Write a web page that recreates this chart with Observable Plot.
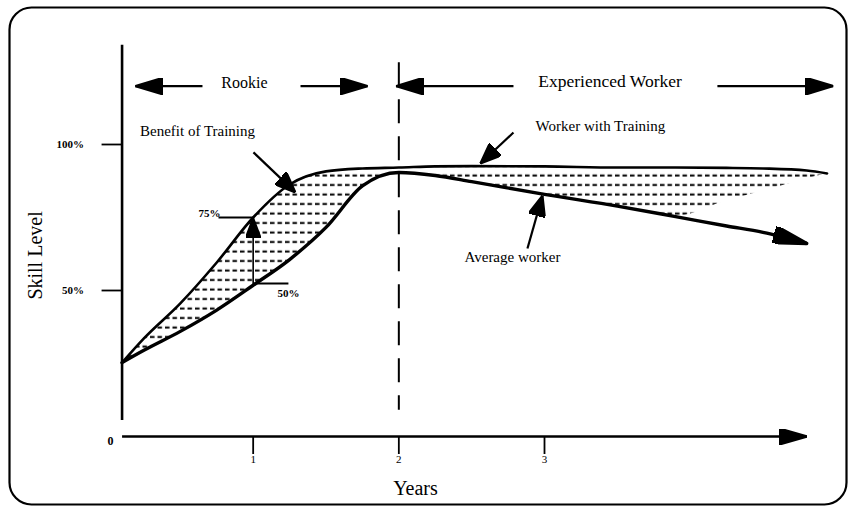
<!DOCTYPE html>
<html>
<head>
<meta charset="utf-8">
<script src="https://cdn.jsdelivr.net/npm/d3@7"></script>
<script src="https://cdn.jsdelivr.net/npm/@observablehq/plot@0.6"></script>
<style>
  html, body { margin: 0; padding: 0; background: #fff; }
</style>
</head>
<body>
<svg width="0" height="0" style="position:absolute">
  <defs>
    <pattern id="dashes" patternUnits="userSpaceOnUse" width="7.5" height="9.5">
      <rect x="0" y="3.5" width="4.5" height="2" fill="#000"></rect>
    </pattern>
  </defs>
</svg>
<script>
// ---- values (x in years, y in % skill level) ----
const years         = [0.1, 0.25, 0.5, 0.75, 1.0, 1.25, 1.5, 1.75, 2.0, 2.25, 2.5, 3.0, 3.5, 3.9, 4.25, 4.5, 4.8, 4.94];
const averageWorker = [25.3, 29.5, 36.0, 43.3, 51.8, 60.6, 71.6, 85.8, 90.4, 89.4, 87.3, 82.9, 78.9, 75.3, 72.1, 69.9, 66.1, null];
const withTraining  = [25.3, 33.6, 45.6, 59.6, 75.0, 86.3, 90.8, 91.8, 92.1, 92.5, 92.6, 92.5, 92.1, 92.1, 92.0, 91.8, 91.1, 90.1];
const shadingFloor  = [25.3, 29.5, 36.0, 43.3, 51.8, 60.6, 71.6, 85.8, 90.4, 89.4, 87.3, 82.9, 78.9, 75.3, 80.7, 84.1, 88.2, 90.1];

const xTicks = [1, 2, 3];
const yTicks = [50, 100];
const yAxisStart = 0.1;          // the skill axis stands where the curves begin
const yAxisExtent = [5.5, 134];
const xAxisEnd = 4.8;
const phaseDivider = 2;          // Rookie | Experienced boundary (years)
const dividerExtent = [128, 9];

const phaseLabels = [
  {x: 0.94, y: 121.2, text: "Rookie", size: 16},
  {x: 3.45, y: 121.6, text: "Experienced Worker", size: 17.5}
];
const phaseArrows = [
  {x1: 0.652, x2: 0.192, y: 120},
  {x1: 1.325, x2: 1.785, y: 120},
  {x1: 2.787, x2: 1.98, y: 120},
  {x1: 4.187, x2: 4.983, y: 120}
];
const curveLabels = [
  {x: 0.618, y: 104.5, text: "Benefit of Training"},
  {x: 3.384, y: 106.2, text: "Worker with Training"},
  {x: 2.78, y: 61.3, text: "Average worker"}
];
const pointerArrows = [
  {x1: 1.002, y1: 97.3, x2: 1.29, y2: 83.6},
  {x1: 2.787, y1: 104.1, x2: 2.56, y2: 93.5},
  {x1: 2.883, y1: 64.4, x2: 2.986, y2: 82.5}
];
const gain = {year: 1.0, from: 52.0, to: 75.0};
const gainLabels = [
  {x: 0.70, y: 76.4, text: "75%", anchor: "end"},
  {x: 1.242, y: 49.0, text: "50%", anchor: "start"}
];
const gainLeaders = [
  {x1: 0.762, x2: 1.0, y: 75.0},
  {x1: 1.0, x2: 1.242, y: 52.4}
];

const table = years.map((t, i) => ({
  year: t, avg: averageWorker[i], trained: withTraining[i], floor: shadingFloor[i]
}));

// filled triangular arrowhead marker
const NS = "http://www.w3.org/2000/svg";
function head(len, half) {
  return (color) => {
    const m = document.createElementNS(NS, "marker");
    m.setAttribute("viewBox", `${-len} ${-half} ${len} ${2 * half}`);
    m.setAttribute("markerWidth", len);
    m.setAttribute("markerHeight", 2 * half);
    m.setAttribute("markerUnits", "userSpaceOnUse");
    m.setAttribute("orient", "auto");
    m.setAttribute("refX", 0);
    m.setAttribute("refY", 0);
    const p = document.createElementNS(NS, "path");
    p.setAttribute("d", `M${-len},${-half}L0,0L${-len},${half}Z`);
    p.setAttribute("fill", color || "black");
    m.appendChild(p);
    return m;
  };
}

const W = 848, H = 509;
const mL = 9, mT = 7, mR = 2, mB = 5;
const xPix = d3.scaleLinear([0, 3], [107, 544]);
const yPix = d3.scaleLinear([0, 100], [436, 144]);

const chart = Plot.plot({
  width: W, height: H,
  marginLeft: mL, marginTop: mT, marginRight: mR, marginBottom: mB,
  x: {domain: xPix.domain(), range: xPix.range()},
  y: {domain: yPix.domain(), range: yPix.range()},
  style: {fontFamily: "'Liberation Serif', 'Times New Roman', serif", background: "#fff", color: "#000"},
  marks: [
    Plot.frame({rx: 22, stroke: "#000", strokeWidth: 2.2}),
    // shaded benefit
    Plot.areaY(table, {x: "year", y1: "floor", y2: "trained", curve: "monotone-x", fill: "url(#dashes)"}),
    // axes
    Plot.ruleX([yAxisStart], {y1: yAxisExtent[0], y2: yAxisExtent[1], stroke: "#000", strokeWidth: 2.6}),
    Plot.link([{x1: yAxisStart, x2: xAxisEnd}], {x1: "x1", x2: "x2", y1: 0, y2: 0, stroke: "#000", strokeWidth: 2.6, markerEnd: head(28, 8)}),
    Plot.axisX({ticks: xTicks, tickSize: 18, tickPadding: 1, dy: -(H - mB - yPix(0)), fontSize: 11, strokeWidth: 1.8, tickFormat: d => String(d), label: null}),
    Plot.axisY({ticks: yTicks, tickSize: 20, tickPadding: 18, dx: xPix(yAxisStart) - mL, fontSize: 11, fontWeight: "bold", strokeWidth: 1.8, tickFormat: d => d + "%", label: null}),
    Plot.text(["0"], {x: 0.02, y: -1.7, text: d => d, fontSize: 12, fontWeight: "bold"}),
    Plot.text(["Years"], {x: 2.114, y: -17.8, text: d => d, fontSize: 20}),
    Plot.text(["Skill Level"], {x: -0.494, y: 62, text: d => d, fontSize: 20, rotate: -90}),
    // phase divider
    Plot.ruleX([phaseDivider], {y1: dividerExtent[0], y2: dividerExtent[1], stroke: "#000", strokeWidth: 2, strokeDasharray: "24,13"}),
    // curves
    Plot.line(table, {x: "year", y: "trained", curve: "monotone-x", stroke: "#000", strokeWidth: 2.6}),
    Plot.line(table.filter(d => d.avg != null), {x: "year", y: "avg", curve: "monotone-x", stroke: "#000", strokeWidth: 3.4, markerEnd: head(34, 8.5)}),
    // phase labels and arrows
    Plot.text(phaseLabels, {x: "x", y: "y", text: "text", fontSize: "size"}),
    Plot.link(phaseArrows, {x1: "x1", x2: "x2", y1: "y", y2: "y", stroke: "#000", strokeWidth: 2.2, markerEnd: head(28, 8.5)}),
    // curve labels and pointers
    Plot.text(curveLabels, {x: "x", y: "y", text: "text", fontSize: 15}),
    Plot.link(pointerArrows, {x1: "x1", y1: "y1", x2: "x2", y2: "y2", stroke: "#000", strokeWidth: 2.2, markerEnd: head(21, 8.5)}),
    // 50% -> 75% gain
    Plot.link([gain], {x1: "year", x2: "year", y1: "from", y2: "to", stroke: "#000", strokeWidth: 1.6, markerEnd: head(20, 7.5)}),
    Plot.link(gainLeaders, {x1: "x1", x2: "x2", y1: "y", y2: "y", stroke: "#000", strokeWidth: 1.8}),
    Plot.text(gainLabels, {x: "x", y: "y", text: "text", textAnchor: "anchor", fontSize: 11, fontWeight: "bold"})
  ]
});
document.body.appendChild(chart);
</script>
</body>
</html>
